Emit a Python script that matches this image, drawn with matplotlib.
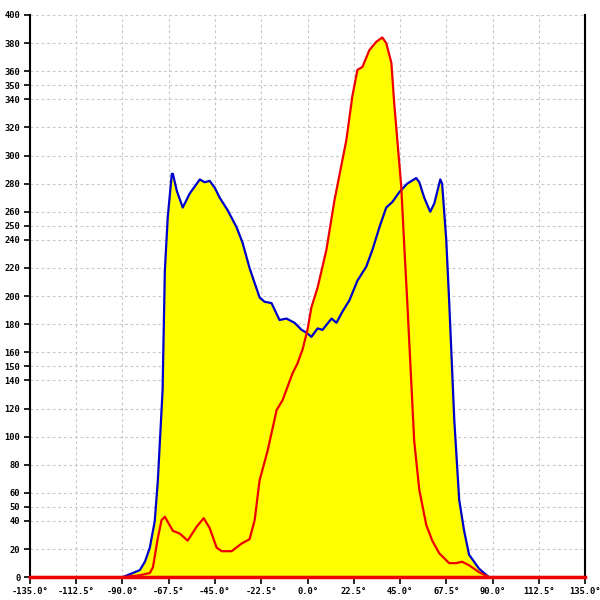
import matplotlib
matplotlib.use("Agg")
import matplotlib.pyplot as plt
import numpy as np

blue_angle = [-90, -81.6, -79.1, -76.7, -74.3, -72.8, -71.5, -70.5, -69.4, -68.0, -66.0, -65.5,
              -63.6, -60.7, -57.3, -52.4, -50.0, -47.6, -45.1, -42.7, -38.8, -34.5, -31.6, -28.2,
              -23.3, -20.9, -17.5, -13.6, -10.2, -6.3, -2.9, -0.5, 1.9, 4.9, 7.3, 11.7, 14.1,
              17.0, 20.4, 24.3, 28.6, 31.6, 35.0, 38.3, 41.3, 44.7, 48.5, 52.9, 54.4, 56.8,
              59.7, 61.7, 64.6, 65.5, 67.5, 68.9, 71.4, 73.8, 76.2, 78.6, 83.5, 88.3, 90]
blue_value = [0, 5, 11, 21, 40, 69, 105, 133, 218, 256, 287, 287,
              275, 263, 273, 283, 281, 282, 277, 270, 261, 249, 238, 220,
              199, 196, 195, 183, 184, 181, 176, 174, 171, 177, 176, 184, 181,
              189, 197, 211, 221, 233, 249, 263, 267, 274, 280, 284, 281, 270,
              260, 266, 283, 280, 240, 197, 112, 55, 33, 16, 6, 0, 0]

red_angle = [-90, -81.6, -76.7, -75.2, -72.8, -71.0, -69.4, -65.5, -62.1, -58.3, -53.9, -50.5,
             -47.6, -44.2, -41.7, -36.9, -32.0, -28.2, -25.7, -23.3, -19.4, -15.0, -12.1, -7.3,
             -4.9, -2.4, 0.0, 1.9, 4.9, 7.3, 9.2, 13.1, 18.9, 21.8, 24.3, 26.7, 30.1, 33.5,
             36.4, 38.3, 40.8, 42.2, 43.7, 45.6, 47.1, 48.5, 51.9, 54.4, 57.8, 60.7, 64.1,
             68.9, 72.3, 75.2, 78.6, 83.5, 87.4, 88.3, 90]
red_value = [0, 1.4, 3, 7, 28, 40.6, 43, 33, 31, 26, 36, 42,
             35, 21, 18.5, 18.5, 24, 27, 40.6, 69, 90, 119, 126, 145,
             152, 162, 176, 192, 206, 221, 233, 268, 311, 342, 361, 363, 375, 381,
             384, 380, 366, 337, 311, 278, 235, 197, 97, 62, 37, 26, 17,
             10, 10, 11, 8.5, 3.5, 0.7, 0, 0]

x_ticks = [-135.0, -112.5, -90.0, -67.5, -45.0, -22.5, 0.0, 22.5, 45.0, 67.5, 90.0, 112.5, 135.0]
y_ticks = [0, 20, 40, 50, 60, 80, 100, 120, 140, 150, 160, 180, 200, 220, 240, 250, 260,
           280, 300, 320, 340, 350, 360, 380, 400]

fig = plt.figure(figsize=(6, 6), dpi=100)
ax = fig.add_axes([0.05, 0.038, 0.925, 0.937])

ax.fill_between(blue_angle, blue_value, 0, color="#ffff00", lw=0, zorder=2)
ax.fill_between(red_angle, red_value, 0, color="#ffff00", lw=0, zorder=2)
ax.plot(blue_angle, blue_value, color="#0000cc", lw=1.6, zorder=4)
ax.plot(red_angle, red_value, color="#ee0000", lw=1.6, zorder=5)
ax.axhline(0, color="#ee0000", lw=2.5, zorder=6, clip_on=False)

ax.set_xlim(-135, 135)
ax.set_ylim(0, 400)
ax.set_xticks(x_ticks)
ax.set_xticklabels([f"{t:.1f}°" for t in x_ticks])
ax.set_yticks(y_ticks)
ax.set_yticklabels([str(t) for t in y_ticks])

ax.grid(True, color="#c8c8c8", linestyle=(0, (2.5, 2.5)), lw=0.8, zorder=1)
ax.set_axisbelow(True)

ax.spines["top"].set_visible(False)
ax.spines["left"].set_linewidth(1.5)
ax.spines["right"].set_linewidth(1.5)
ax.spines["bottom"].set_linewidth(1.5)

ax.tick_params(axis="y", direction="out", length=4, width=1.2, pad=3, labelsize=6.3)
ax.tick_params(axis="x", direction="out", length=5, width=1.2, pad=2, labelsize=6.3)
for lbl in ax.get_xticklabels() + ax.get_yticklabels():
    lbl.set_family("DejaVu Sans Mono")
    lbl.set_fontweight("bold")

fig.savefig("out.png", dpi=100, facecolor="white")
